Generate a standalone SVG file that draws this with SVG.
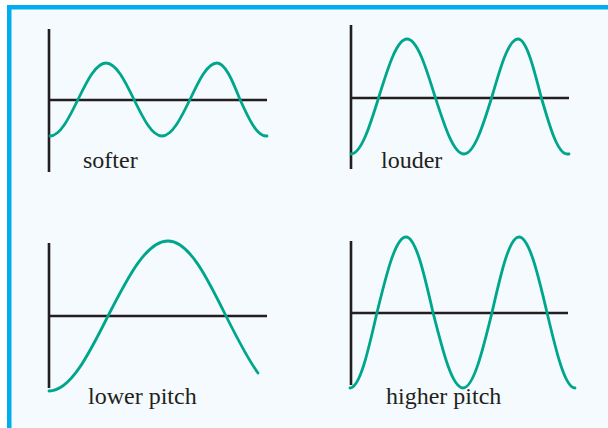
<svg xmlns="http://www.w3.org/2000/svg" width="608" height="428" viewBox="0 0 608 428">
<style>
.axis{stroke:#231F20;stroke-width:2.6;fill:none}
.wave{stroke:#00A68C;stroke-width:2.8;fill:none;stroke-linecap:round}
.lbl{font-family:"Liberation Serif","Times New Roman",serif;font-size:24px;fill:#231F20}
</style>
<rect x="0" y="0" width="608" height="428" fill="#FFFFFF"/>
<rect x="9.25" y="7.25" width="610" height="430" fill="#F4FAFD" stroke="#00AEEF" stroke-width="4.5"/>
<g id="softer">
<path class="axis" d="M49,29V172M49,100H267"/>
<path class="wave" d="M50,136C60.1,136 68.9,118.2 78,99.5C87.1,80.8 95.9,63 106,63C116.1,63 124.9,80.8 134,99.5C143.1,118.2 151.9,136 162,136C172.1,136 180.9,118.2 190,99.5C198.8,80.8 207.2,63 217,63C225.3,63 232.5,80.8 240,99.5C248.5,118.2 256.6,136 266,136L267,136"/>
<text class="lbl" x="83" y="168">softer</text>
</g>
<g id="louder">
<path class="axis" d="M351,25V169M351,98H569"/>
<path class="wave" d="M351,154C361.1,154 369.9,126 379,96.5C388.1,67 396.9,39 407,39C417.1,39 425.9,67 435,96.5C444.5,126 453.5,154 464,154C474.1,154 482.9,126 492,96.5C500.5,67 508.6,39 518,39C526.3,39 533.5,67 541,96.5C549.5,126 557.6,154 567,154L569,154"/>
<text class="lbl" x="381" y="168">louder</text>
</g>
<g id="lower-pitch">
<path class="axis" d="M49,243V388M49,316H267"/>
<path class="wave" d="M49,391C70.4,391 88.8,354.4 108,316C127.6,277.6 146.3,241 168,241C189,241 207.1,277.6 226,316C236.7,337.3 247.3,358.4 258,373"/>
<text class="lbl" x="88" y="404">lower pitch</text>
</g>
<g id="higher-pitch">
<path class="axis" d="M351,241V385M351,313H568"/>
<path class="wave" d="M350,388C359.8,388 368.2,351.2 377,312.5C386.5,273.8 395.5,237 406,237C415.8,237 424.2,273.8 433,312.5C442.8,351.2 452.1,388 463,388C473.5,388 482.5,351.2 492,312.5C500.8,273.8 509.2,237 519,237C529.1,237 537.9,273.8 547,312.5C556.1,351.2 564.9,388 575,388"/>
<text class="lbl" x="386" y="404">higher pitch</text>
</g>
</svg>
